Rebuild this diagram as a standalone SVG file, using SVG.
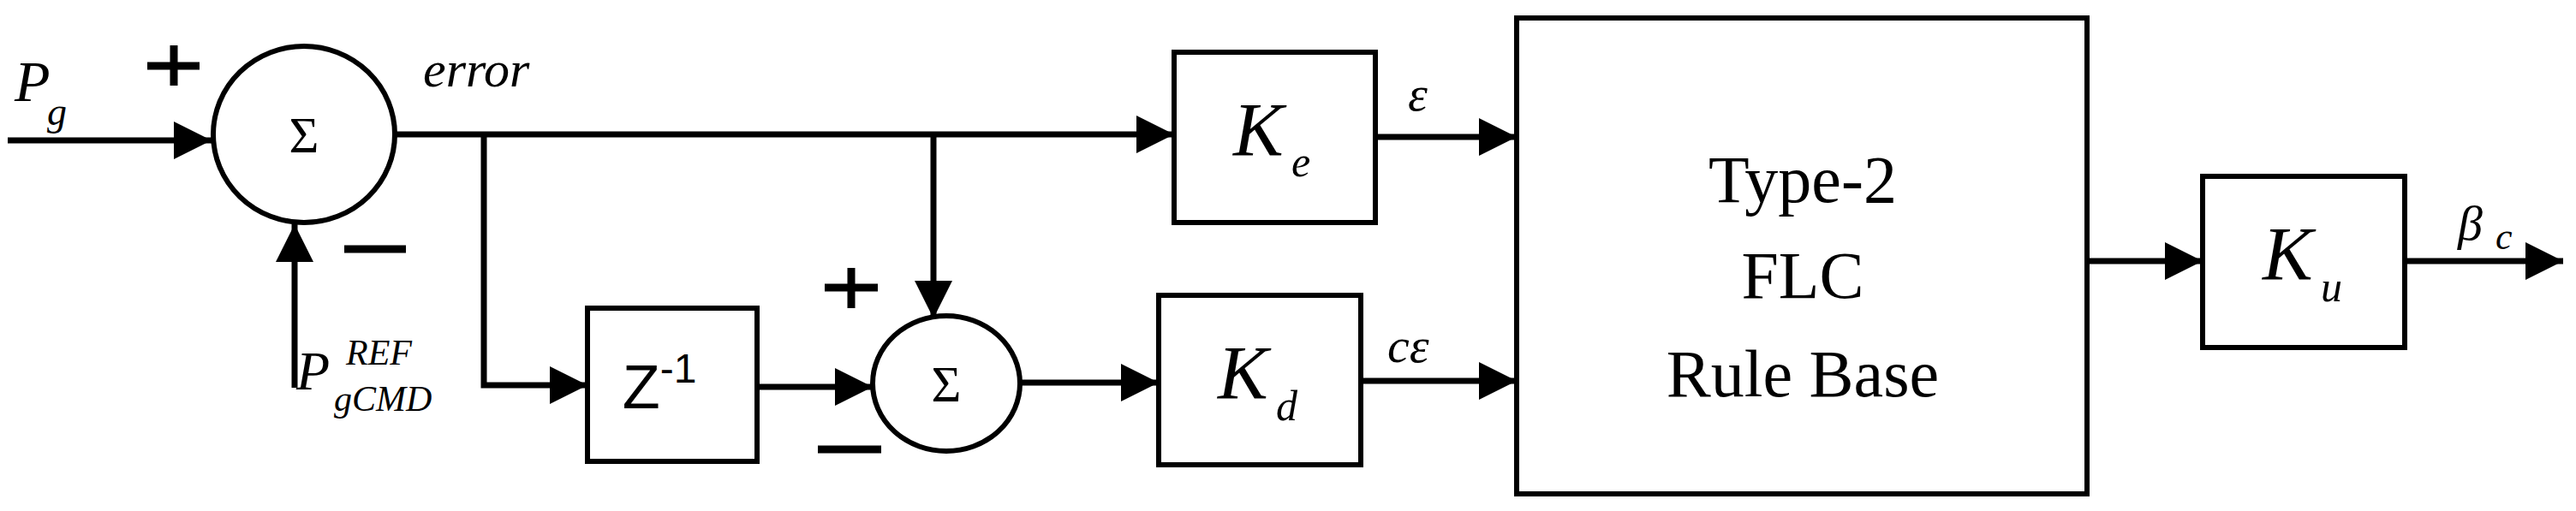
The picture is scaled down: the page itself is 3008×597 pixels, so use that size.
<svg xmlns="http://www.w3.org/2000/svg" width="3008" height="597" viewBox="0 0 3008 597">
<style>
.box{fill:#fff;stroke:#000;stroke-width:6}
.w{fill:none;stroke:#000;stroke-width:7}
.t{font-family:"Liberation Serif",serif;fill:#000}
.i{font-family:"Liberation Serif",serif;font-style:italic;fill:#000}
.s{fill:none;stroke:#000;stroke-width:9}
</style>
<defs>
<marker id="a" viewBox="0 0 10 10" refX="10" refY="5" markerWidth="44" markerHeight="44" markerUnits="userSpaceOnUse" orient="auto">
<path d="M0,0 L10,5 L0,10 Z" fill="#000"/>
</marker>
</defs>
<rect width="3008" height="597" fill="#fff"/>
<g id="connectors">
<path class="w" d="M9,164 H247" marker-end="url(#a)"/>
<path class="w" d="M344,453 V262" marker-end="url(#a)"/>
<path class="w" d="M461,157 H1371" marker-end="url(#a)"/>
<path class="w" d="M565,157 V450 H686" marker-end="url(#a)"/>
<path class="w" d="M1090,157 V372" marker-end="url(#a)"/>
<path class="w" d="M884,452 H1019" marker-end="url(#a)"/>
<path class="w" d="M1190,447 H1353" marker-end="url(#a)"/>
<path class="w" d="M1606,160 H1771" marker-end="url(#a)"/>
<path class="w" d="M1589,445 H1771" marker-end="url(#a)"/>
<path class="w" d="M2437,305 H2572" marker-end="url(#a)"/>
<path class="w" d="M2808,305 H2993" marker-end="url(#a)"/>
</g>
<g id="sum1">
<ellipse class="box" cx="355" cy="157" rx="106" ry="103"/>
<text class="t" x="355" y="178" font-size="60" text-anchor="middle">Σ</text>
</g>
<g id="sum2">
<ellipse class="box" cx="1105" cy="448" rx="86" ry="79"/>
<text class="t" x="1105" y="469" font-size="60" text-anchor="middle">Σ</text>
</g>
<g id="z">
<rect class="box" x="686" y="360" width="198" height="179"/>
<text x="770" y="477" font-family="Liberation Sans,sans-serif" font-size="72" text-anchor="middle">Z<tspan font-size="48" dy="-30">-1</tspan></text>
</g>
<g id="ke">
<rect class="box" x="1371" y="61" width="235" height="199"/>
<text class="i" x="1440" y="181" font-size="88">K</text>
<text class="i" x="1508" y="206" font-size="50">e</text>
</g>
<g id="kd">
<rect class="box" x="1353" y="345" width="236" height="198"/>
<text class="i" x="1422" y="465" font-size="88">K</text>
<text class="i" x="1490" y="491" font-size="50">d</text>
</g>
<g id="flc">
<rect class="box" x="1771" y="21" width="666" height="556"/>
<text class="t" x="2105" y="236" font-size="78" text-anchor="middle">Type-2</text>
<text class="t" x="2105" y="348" font-size="78" text-anchor="middle">FLC</text>
<text class="t" x="2105" y="463" font-size="78" text-anchor="middle">Rule Base</text>
</g>
<g id="ku">
<rect class="box" x="2572" y="206" width="236" height="200"/>
<text class="i" x="2642" y="326" font-size="88">K</text>
<text class="i" x="2710" y="352" font-size="50">u</text>
</g>
<g id="labels">
<text class="i" x="17" y="118" font-size="68">P</text>
<text class="i" x="55" y="146" font-size="46">g</text>
<text class="i" x="494" y="101" font-size="60">error</text>
<text class="i" x="346" y="455" font-size="64">P</text>
<text class="i" x="404" y="426" font-size="42">REF</text>
<text class="i" x="390" y="480" font-size="42">gCMD</text>
<text class="i" x="1644" y="129" font-size="58">ε</text>
<text class="i" x="1620" y="423" font-size="58">cε</text>
<text class="i" x="2870" y="280" font-size="58">β</text>
<text class="i" x="2914" y="291" font-size="44">c</text>
<path class="s" d="M172,77 H233 M203,53 V100"/>
<path class="s" d="M402,291 H474"/>
<path class="s" d="M963,336 H1025 M994,313 V360"/>
<path class="s" d="M955,525 H1029"/>
</g>
</svg>
